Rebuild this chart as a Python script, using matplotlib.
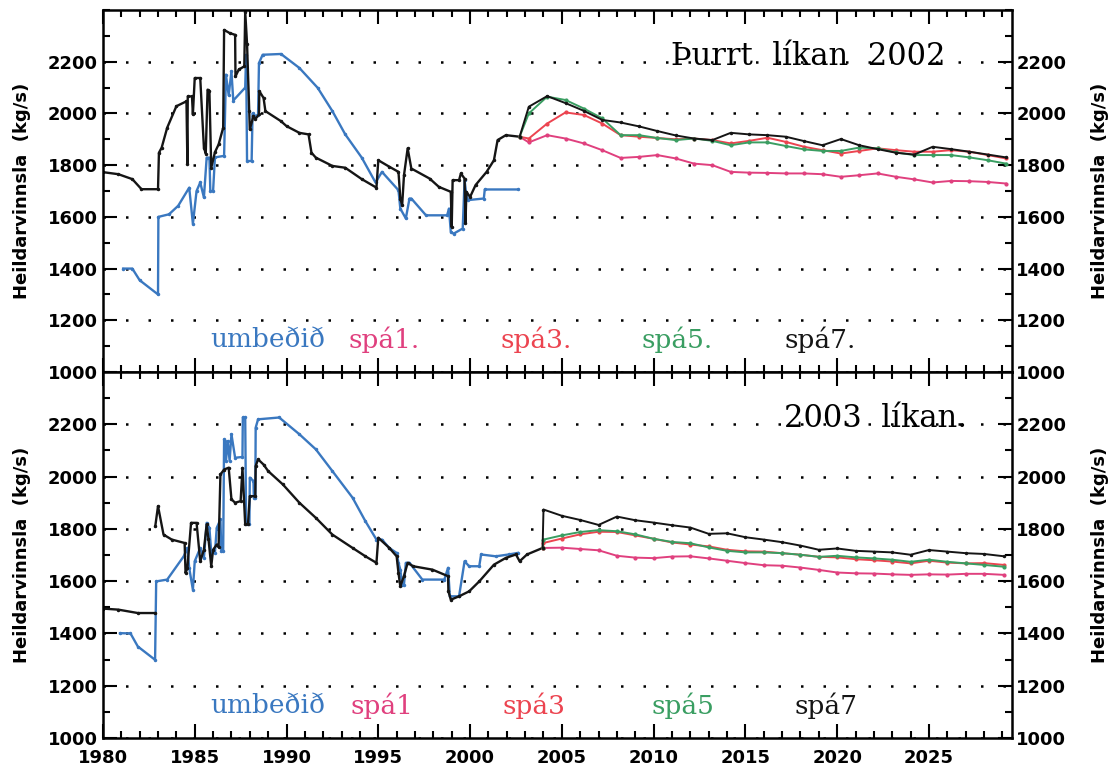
import numpy as np
import matplotlib.pyplot as plt
from matplotlib.ticker import MultipleLocator

# ---- efri mynd: Þurrt líkan 2002 ----
top_blue_x = [1981.1, 1981.6, 1982.0, 1983.0, 1983.02, 1983.6, 1984.1, 1984.7, 1984.9, 1985.1,
              1985.3, 1985.5, 1985.65, 1985.8, 1985.85, 1986.0, 1986.1, 1986.6, 1986.7, 1986.85,
              1987.0, 1987.1, 1987.75, 1987.8, 1987.85, 1988.1, 1988.15, 1988.3, 1988.45, 1988.5,
              1988.7, 1989.7, 1990.7, 1991.7, 1992.5, 1993.2, 1994.1, 1994.85, 1995.2, 1996.1,
              1996.2, 1996.5, 1996.7, 1996.8, 1997.6, 1998.75, 1998.85, 1998.95, 1999.1, 1999.6,
              1999.7, 1999.8, 1999.9, 2000.75, 2000.8, 2002.6]
top_blue_y = [1400, 1400, 1355, 1300, 1600, 1610, 1643, 1713, 1573, 1700,
              1733, 1675, 1829, 1829, 1700, 1700, 1830, 1836, 2150, 2070,
              2163, 2050, 2100, 2227, 1816, 1816, 2000, 1990, 1995, 2195,
              2227, 2230, 2176, 2099, 2009, 1919, 1829, 1733, 1774, 1703,
              1632, 1594, 1671, 1671, 1606, 1606, 1632, 1542, 1535, 1555,
              1742, 1684, 1665, 1671, 1706, 1706]

top_black_x = [1980.0, 1980.84, 1981.6, 1982.1, 1983.0, 1983.05, 1983.2, 1983.5, 1984.0, 1984.55,
               1984.6, 1984.62, 1984.85, 1984.9, 1985.0, 1985.3, 1985.5, 1985.6, 1985.7, 1985.8,
               1985.9, 1986.1, 1986.3, 1986.55, 1986.6, 1986.9, 1987.2, 1987.22, 1987.4, 1987.7,
               1987.75, 1987.85, 1987.97, 1988.0, 1988.2, 1988.3, 1988.5, 1988.52, 1988.75, 1988.85,
               1989.7, 1990.0, 1990.7, 1991.2, 1991.36, 1991.6, 1992.5, 1993.2, 1994.1, 1994.9,
               1995.0, 1995.6, 1996.1, 1996.2, 1996.3, 1996.4, 1996.6, 1996.8, 1997.8, 1998.3,
               1998.95, 1999.0, 1999.05, 1999.4, 1999.5, 1999.7, 1999.75, 1999.8, 2000.0, 2000.3,
               2000.9, 2001.3, 2001.5, 2001.95, 2002.7]
top_black_y = [1773, 1765, 1746, 1707, 1707, 1848, 1868, 1945, 2028, 2047,
               1805, 2066, 2066, 1996, 2137, 2137, 1868, 1845, 2092, 2085,
               1790, 1850, 1880, 1945, 2323, 2311, 2304, 2143, 2170, 2182,
               2394, 2270, 2009, 1938, 1990, 1978, 1996, 2086, 2060, 2009,
               1970, 1951, 1925, 1919, 1848, 1829, 1797, 1790, 1746, 1713,
               1819, 1794, 1774, 1671, 1645, 1761, 1865, 1787, 1748, 1716,
               1697, 1560, 1742, 1742, 1768, 1748, 1575, 1697, 1677, 1723,
               1774, 1819, 1897, 1916, 1910]

top_fc_x = [2002.7, 2003.2, 2004.2, 2005.2, 2006.2, 2007.2, 2008.2, 2009.2, 2010.2, 2011.2,
            2012.2, 2013.2, 2014.2, 2015.2, 2016.2, 2017.2, 2018.2, 2019.2, 2020.2, 2021.2,
            2022.2, 2023.2, 2024.2, 2025.2, 2026.2, 2027.2, 2028.2, 2029.2]
top_spa1 = [1910, 1888, 1916, 1903, 1884, 1858, 1828, 1832, 1839, 1826,
            1806, 1800, 1774, 1771, 1770, 1768, 1768, 1765, 1755, 1761,
            1768, 1755, 1745, 1733, 1739, 1738, 1735, 1729]
top_spa3 = [1910, 1903, 1961, 2004, 1994, 1961, 1916, 1910, 1905, 1900,
            1903, 1897, 1884, 1894, 1906, 1890, 1871, 1858, 1845, 1855,
            1865, 1858, 1852, 1852, 1858, 1852, 1839, 1826]
top_spa5 = [1910, 2000, 2065, 2052, 2019, 1981, 1916, 1916, 1905, 1897,
            1903, 1894, 1877, 1888, 1888, 1874, 1861, 1855, 1855, 1868,
            1865, 1849, 1839, 1839, 1839, 1830, 1819, 1806]
top_spa7 = [1910, 2026, 2067, 2040, 2010, 1975, 1965, 1950, 1932, 1915,
            1903, 1897, 1925, 1919, 1916, 1910, 1893, 1877, 1901, 1877,
            1862, 1848, 1841, 1871, 1862, 1852, 1841, 1830]

# ---- neðri mynd: 2003 líkan ----
bot_blue_x = [1980.93, 1981.5, 1981.9, 1982.84, 1982.9, 1983.5, 1984.4, 1984.6, 1984.7, 1984.9,
              1985.0, 1985.3, 1985.5, 1985.65, 1985.8, 1985.9, 1986.1, 1986.2, 1986.4, 1986.45,
              1986.55, 1986.6, 1986.65, 1986.7, 1986.8, 1986.9, 1987.0, 1987.2, 1987.6, 1987.62,
              1987.75, 1987.8, 1987.98, 1988.0, 1988.2, 1988.22, 1988.3, 1988.32, 1988.45, 1989.6,
              1990.7, 1991.6, 1992.5, 1993.6, 1994.3, 1994.9, 1995.2, 1995.6, 1996.0, 1996.1,
              1996.2, 1996.3, 1996.4, 1996.5, 1996.7, 1997.4, 1998.6, 1998.8, 1998.9, 1999.4,
              1999.7, 1999.95, 2000.5, 2000.6, 2001.4, 2002.1, 2002.6]
bot_blue_y = [1401, 1400, 1350, 1299, 1599, 1606, 1695, 1727, 1650, 1567,
              1676, 1727, 1689, 1823, 1804, 1708, 1708, 1804, 1836, 1714,
              1714, 2142, 2136, 2059, 2136, 2060, 2162, 2072, 2075, 2226,
              2226, 1817, 1817, 1996, 1983, 1919, 1919, 2187, 2219, 2226,
              2162, 2104, 2021, 1919, 1829, 1759, 1759, 1727, 1708, 1670,
              1644, 1587, 1587, 1670, 1670, 1606, 1606, 1651, 1542, 1542,
              1676, 1657, 1657, 1702, 1695, 1702, 1708]

bot_black_x = [1980.0, 1980.84, 1981.9, 1982.84, np.nan,
               1982.85, 1983.0, 1983.3, 1983.75, 1984.45, 1984.5, 1984.6, 1984.8, 1985.1, 1985.3,
               1985.5, 1985.65, 1985.75, 1985.9, 1986.0, 1986.2, 1986.3, 1986.4, 1986.6, 1986.85,
               1987.0, 1987.2, 1987.5, 1987.6, 1987.75, 1987.9, 1988.0, 1988.3, 1988.32, 1988.45,
               1988.75, 1989.0, 1989.8, 1990.7, 1991.6, 1992.5, 1993.6, 1994.3, 1994.9, 1995.0,
               1995.6, 1996.0, 1996.1, 1996.2, 1996.4, 1996.6, 1996.9, 1997.95, 1998.8, 1998.82,
               1998.95, 1999.4, 1999.95, 2000.5, 2001.3, 2001.95, 2002.5, 2002.7, 2003.1, 2003.95]
bot_black_y = [1495, 1491, 1478, 1478, np.nan,
               1810, 1887, 1778, 1759, 1746, 1631, 1650, 1823, 1823, 1676,
               1720, 1817, 1760, 1657, 1720, 1740, 1730, 2008, 2027, 2034,
               1913, 1900, 1906, 2033, 1817, 1817, 1925, 1925, 2040, 2066,
               2046, 2021, 1970, 1900, 1842, 1778, 1727, 1695, 1670, 1766,
               1727, 1695, 1631, 1580, 1620, 1670, 1657, 1644, 1619, 1561,
               1529, 1542, 1561, 1599, 1663, 1689, 1702, 1676, 1702, 1727]

bot_fc_x = [2003.95, 2004.0, 2005.0, 2006.0, 2007.0, 2008.0, 2009.0, 2010.0, 2011.0, 2012.0,
            2013.0, 2014.0, 2015.0, 2016.0, 2017.0, 2018.0, 2019.0, 2020.0, 2021.0, 2022.0,
            2023.0, 2024.0, 2025.0, 2026.0, 2027.0, 2028.0, 2029.1]
bot_spa1 = [1727, 1727, 1728, 1723, 1718, 1697, 1690, 1688, 1694, 1695,
            1687, 1678, 1669, 1661, 1659, 1652, 1643, 1633, 1630, 1629,
            1626, 1624, 1626, 1625, 1628, 1628, 1624]
bot_spa3 = [1727, 1746, 1763, 1779, 1789, 1788, 1775, 1762, 1748, 1740,
            1733, 1720, 1714, 1713, 1707, 1701, 1693, 1691, 1684, 1680,
            1675, 1668, 1678, 1671, 1668, 1669, 1662]
bot_spa5 = [1727, 1759, 1775, 1788, 1795, 1791, 1779, 1762, 1750, 1745,
            1729, 1716, 1710, 1710, 1707, 1701, 1693, 1697, 1691, 1687,
            1682, 1674, 1682, 1674, 1668, 1662, 1655]
bot_spa7 = [1727, 1874, 1850, 1834, 1815, 1847, 1833, 1824, 1814, 1805,
            1781, 1783, 1768, 1759, 1749, 1736, 1720, 1725, 1716, 1713,
            1710, 1701, 1719, 1713, 1707, 1704, 1695]

label_names_top = ['umbeðið', 'spá1.', 'spá3.', 'spá5.', 'spá7.']
label_names_bot = ['umbeðið', 'spá1', 'spá3', 'spá5', 'spá7']

BLUE = '#3a78c0'
MAGENTA = '#e0407e'
RED = '#ec4450'
GREEN = '#3a9e62'
BLACK = '#151515'
colors = [BLUE, MAGENTA, RED, GREEN, BLACK]

fig = plt.figure(figsize=(11.19, 7.71), dpi=100)
ax1 = fig.add_axes([0.092, 0.5175, 0.812, 0.4695])
ax2 = fig.add_axes([0.092, 0.0428, 0.812, 0.4747])


def draw_panel(ax, blue_x, blue_y, black_x, black_y, fc_x, s1, s3, s5, s7):
    ax.plot(blue_x, blue_y, color=BLUE, lw=1.7, marker='o', ms=1.5)
    ax.plot(black_x, black_y, color=BLACK, lw=1.7, marker='o', ms=1.5)
    ax.plot(fc_x, s1, color=MAGENTA, lw=1.4, marker='o', ms=2)
    ax.plot(fc_x, s3, color=RED, lw=1.4, marker='o', ms=2)
    ax.plot(fc_x, s5, color=GREEN, lw=1.4, marker='o', ms=2)
    ax.plot(fc_x, s7, color=BLACK, lw=1.4, marker='o', ms=1.5)

    ax.set_xlim(1980, 2029.5)
    ax.set_ylim(1000, 2400)
    ax.set_yticks(np.arange(1000, 2201, 200))
    ax.yaxis.set_minor_locator(MultipleLocator(100))
    ax.xaxis.set_major_locator(MultipleLocator(5))
    ax.xaxis.set_minor_locator(MultipleLocator(1))
    ax.tick_params(which='both', direction='in', top=True, right=True,
                   labelright=True, width=1.5)
    ax.tick_params(which='major', length=10, labelsize=13)
    ax.tick_params(which='minor', length=5)
    ax.tick_params(axis='x', pad=8)
    for lab in ax.get_yticklabels():
        lab.set_fontweight('bold')
    ax.yaxis.grid(True, which='major', color='black', lw=1.8, linestyle=(0, (1, 8)))
    for s in ax.spines.values():
        s.set_linewidth(1.8)
    ax.set_ylabel('Heildarvinnsla  (kg/s)', fontsize=13, fontweight='bold', labelpad=12)


draw_panel(ax1, top_blue_x, top_blue_y, top_black_x, top_black_y,
           top_fc_x, top_spa1, top_spa3, top_spa5, top_spa7)
draw_panel(ax2, bot_blue_x, bot_blue_y, bot_black_x, bot_black_y,
           bot_fc_x, bot_spa1, bot_spa3, bot_spa5, bot_spa7)

ax1.tick_params(labelbottom=False)
for lab in ax2.get_xticklabels():
    lab.set_fontweight('bold')

for ax in [ax1, ax2]:
    fig.text(0.983, (ax.get_position().y0 + ax.get_position().y1) / 2,
             'Heildarvinnsla  (kg/s)', rotation=90, fontsize=13, fontweight='bold',
             ha='center', va='center')

serif = 'DejaVu Serif'
lx_top = [1989.0, 1995.3, 2003.6, 2011.3, 2019.1]
lx_bot = [1989.0, 1995.2, 2003.5, 2011.6, 2019.4]
for name, x, c in zip(label_names_top, lx_top, colors):
    ax1.text(x, 1125, name, color=c, fontsize=19, family=serif, ha='center', va='center')
for name, x, c in zip(label_names_bot, lx_bot, colors):
    ax2.text(x, 1125, name, color=c, fontsize=19, family=serif, ha='center', va='center')

ax1.text(2018.4, 2222, 'Þurrt  líkan  2002', fontsize=22, family=serif,
         ha='center', va='center')
ax2.text(2022.1, 2222, '2003  líkan.', fontsize=22, family=serif,
         ha='center', va='center')

fig.savefig('out.png', dpi=100)
